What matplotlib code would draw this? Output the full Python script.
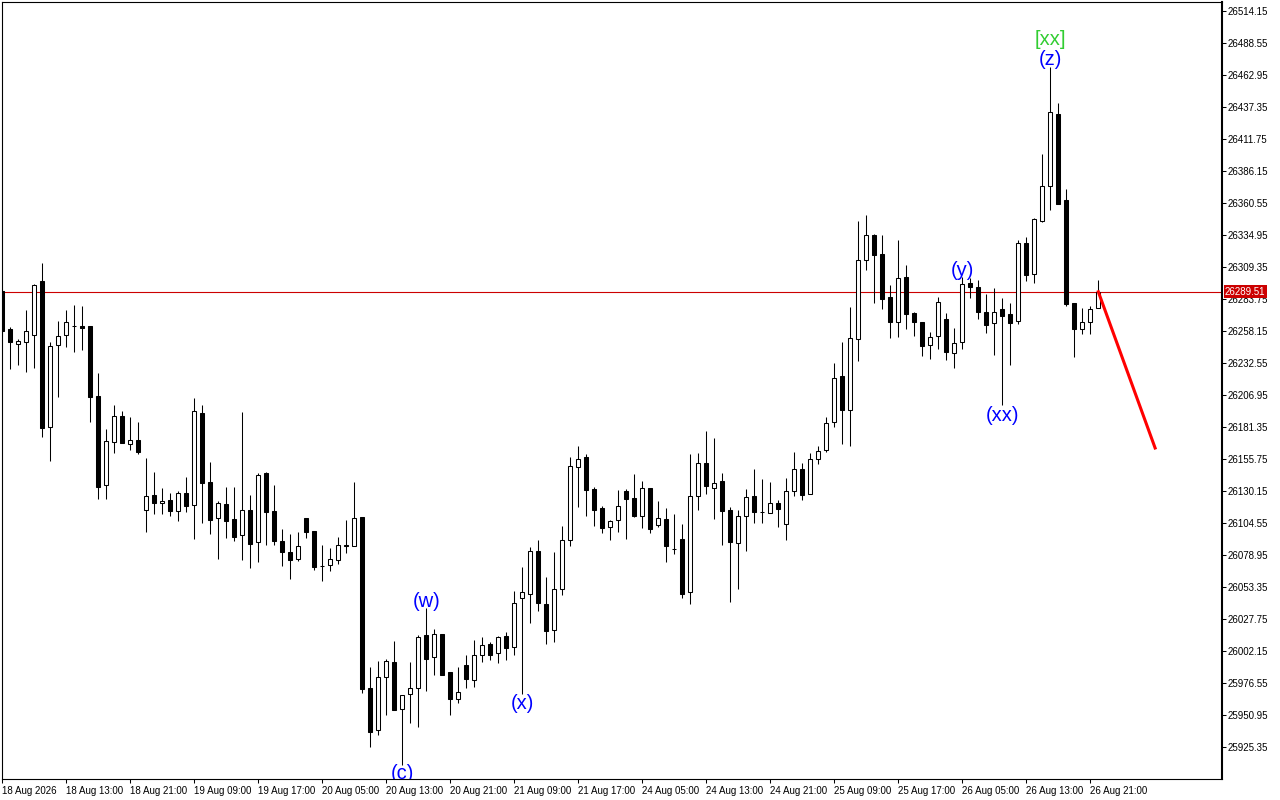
import numpy as np
import matplotlib
matplotlib.use("Agg")
import matplotlib.pyplot as plt

plt.rcParams['font.family'] = ['Liberation Sans', 'DejaVu Sans']

# hourly candles
opens = [
    26290.2, 26259.8, 26248.0, 26249.6, 26255.2, 26298.2, 26181.6, 26246.7, 26254.7, 26261.9,
    26262.2, 26262.2, 26206.2, 26134.7, 26169.6, 26190.2, 26168.0, 26171.0, 26114.7, 26126.7,
    26120.3, 26122.7, 26113.9, 26128.3, 26118.7, 26192.3, 26137.1, 26108.3, 26119.5, 26107.5,
    26094.7, 26114.7, 26089.1, 26144.3, 26113.9, 26090.2, 26081.1, 26075.5, 26108.3, 26097.9,
    26069.9, 26070.7, 26074.7, 26086.7, 26086.4, 26109.1, 25972.3, 25938.7, 25981.1, 25993.1,
    25955.5, 25967.5, 25972.3, 26014.7, 25997.1, 26015.8, 25985.1, 25963.5, 25990.7, 25978.7,
    25998.7, 26007.5, 26000.3, 26013.9, 26005.4, 26044.3, 26048.0, 26082.2, 26039.8, 26018.7,
    26052.0, 26090.7, 26149.6, 26157.1, 26131.8, 26116.6, 26101.1, 26106.7, 26129.9, 26124.6,
    26109.9, 26132.6, 26102.7, 26107.8, 26083.5, 26091.5, 26049.1, 26125.9, 26152.3, 26132.3,
    26137.9, 26114.7, 26088.3, 26109.9, 26126.2, 26113.1, 26112.3, 26120.3, 26103.5, 26129.9,
    26147.5, 26127.5, 26155.5, 26162.7, 26185.1, 26221.9, 26194.7, 26251.5, 26314.7, 26335.0,
    26319.8, 26285.1, 26265.1, 26301.4, 26272.6, 26265.4, 26246.7, 26253.9, 26267.5, 26240.3,
    26249.1, 26296.6, 26293.1, 26273.4, 26264.3, 26275.5, 26271.5, 26265.9, 26328.6, 26303.5,
    26346.2, 26373.9, 26431.8, 26362.7, 26280.6, 26259.5, 26265.1, 26276.3,
]
highs = [
    26292.0, 26261.4, 26251.5, 26275.0, 26296.0, 26312.6, 26249.1, 26266.2, 26275.0, 26279.0,
    26278.2, 26262.2, 26224.6, 26179.8, 26199.0, 26194.2, 26189.4, 26185.4, 26156.6, 26145.4,
    26132.6, 26128.6, 26130.2, 26141.4, 26204.6, 26199.0, 26153.4, 26121.9, 26133.4, 26133.4,
    26193.4, 26126.7, 26144.3, 26145.6, 26135.0, 26099.8, 26095.8, 26097.4, 26108.3, 26097.9,
    26086.7, 26084.3, 26093.1, 26107.0, 26137.4, 26109.1, 25989.1, 25993.9, 25995.5, 26009.9,
    25966.7, 25993.1, 26014.7, 26036.6, 26019.5, 26015.8, 25985.1, 25989.1, 25999.0, 26011.0,
    26013.4, 26009.4, 26013.9, 26017.1, 26050.2, 26069.4, 26085.1, 26091.0, 26061.4, 26081.1,
    26102.2, 26157.1, 26166.2, 26159.8, 26133.4, 26118.2, 26107.0, 26131.0, 26131.5, 26143.8,
    26138.2, 26132.6, 26122.2, 26116.6, 26111.8, 26103.8, 26159.5, 26160.6, 26178.2, 26172.6,
    26144.3, 26117.4, 26115.0, 26131.8, 26147.8, 26139.8, 26137.4, 26123.0, 26140.6, 26161.4,
    26152.6, 26160.3, 26165.9, 26189.1, 26232.6, 26249.6, 26277.4, 26346.2, 26351.0, 26335.8,
    26335.0, 26295.0, 26331.2, 26311.0, 26273.4, 26265.4, 26257.6, 26285.4, 26272.8, 26260.6,
    26301.1, 26300.8, 26299.2, 26287.8, 26292.6, 26284.6, 26280.3, 26331.0, 26333.4, 26348.6,
    26399.8, 26469.4, 26440.6, 26371.8, 26280.6, 26276.4, 26278.3, 26299.0,
]
lows = [
    26254.0, 26227.8, 26231.0, 26225.6, 26228.6, 26173.4, 26154.4, 26205.6, 26245.6, 26241.6,
    26243.0, 26185.6, 26123.9, 26123.9, 26160.8, 26168.6, 26163.0, 26159.5, 26097.6, 26111.9,
    26111.9, 26110.4, 26106.4, 26113.6, 26092.0, 26104.8, 26095.9, 26076.0, 26092.8, 26090.4,
    26075.2, 26068.8, 26073.6, 26087.2, 26087.2, 26070.4, 26059.5, 26073.9, 26092.3, 26066.7,
    26057.9, 26065.9, 26071.5, 26080.3, 26085.9, 25968.8, 25925.1, 25934.7, 25950.7, 25954.7,
    25910.7, 25944.3, 25941.1, 25970.4, 25983.2, 25983.2, 25951.2, 25960.8, 25972.8, 25973.6,
    25993.6, 25994.7, 25992.8, 25994.7, 25998.7, 25967.8, 26024.8, 26034.4, 26008.0, 26009.1,
    26047.2, 26086.4, 26117.6, 26110.4, 26102.4, 26096.8, 26091.2, 26097.6, 26092.0, 26109.6,
    26100.8, 26096.8, 26101.6, 26073.6, 26079.5, 26044.8, 26040.0, 26115.2, 26128.0, 26108.0,
    26087.2, 26041.6, 26051.5, 26082.4, 26104.8, 26104.8, 26112.3, 26101.6, 26091.0, 26126.4,
    26123.2, 26127.5, 26152.0, 26161.6, 26181.6, 26167.5, 26166.4, 26234.4, 26307.2, 26280.8,
    26275.5, 26252.8, 26253.6, 26260.0, 26254.4, 26238.4, 26236.0, 26243.5, 26235.2, 26228.8,
    26244.0, 26284.8, 26267.5, 26256.8, 26239.0, 26199.0, 26231.0, 26263.5, 26298.4, 26296.8,
    26345.6, 26355.2, 26359.8, 26278.2, 26237.6, 26256.0, 26256.0, 26276.3,
]
closes = [
    26258.2, 26249.1, 26250.2, 26257.9, 26295.0, 26180.8, 26245.9, 26253.9, 26265.1, 26261.9,
    26260.8, 26205.6, 26133.6, 26169.9, 26189.9, 26168.8, 26170.7, 26161.6, 26125.9, 26120.3,
    26121.9, 26114.4, 26128.3, 26118.4, 26193.9, 26136.8, 26107.2, 26120.3, 26106.4, 26093.6,
    26114.7, 26088.0, 26142.7, 26113.6, 26090.4, 26081.6, 26074.7, 26085.9, 26097.1, 26069.6,
    26069.9, 26075.5, 26086.7, 26085.9, 26108.3, 25971.9, 25937.6, 25981.1, 25993.9, 25954.7,
    25966.7, 25972.3, 26013.1, 25996.0, 26015.5, 25983.2, 25964.0, 25969.1, 25980.0, 25998.7,
    26006.7, 25999.2, 26013.1, 26004.8, 26040.3, 26049.1, 26081.9, 26040.8, 26018.4, 26051.5,
    26090.7, 26149.9, 26155.5, 26131.2, 26115.2, 26100.8, 26105.9, 26117.9, 26124.0, 26110.4,
    26132.3, 26100.0, 26108.3, 26086.4, 26083.5, 26048.0, 26125.9, 26152.3, 26133.9, 26136.3,
    26114.4, 26089.6, 26109.9, 26125.1, 26113.6, 26113.1, 26120.3, 26115.5, 26129.9, 26147.5,
    26127.2, 26155.5, 26162.4, 26184.3, 26220.3, 26194.7, 26252.3, 26314.7, 26334.7, 26319.2,
    26284.0, 26265.6, 26300.3, 26272.0, 26265.1, 26246.4, 26253.1, 26281.1, 26241.1, 26248.3,
    26295.5, 26293.6, 26273.1, 26262.7, 26273.1, 26269.9, 26264.8, 26328.6, 26303.2, 26347.5,
    26374.2, 26433.4, 26359.8, 26279.9, 26260.0, 26265.1, 26275.5, 26289.51,
]

time_labels = [
    '18 Aug 2026', '18 Aug 13:00', '18 Aug 21:00', '19 Aug 09:00', '19 Aug 17:00',
    '20 Aug 05:00', '20 Aug 13:00', '20 Aug 21:00', '21 Aug 09:00', '21 Aug 17:00',
    '24 Aug 05:00', '24 Aug 13:00', '24 Aug 21:00', '25 Aug 09:00', '25 Aug 17:00',
    '26 Aug 05:00', '26 Aug 13:00', '26 Aug 21:00',
]
label_step = 8

price_ticks = [
    25925.35, 25950.95, 25976.55, 26002.15, 26027.75, 26053.35, 26078.95, 26104.55,
    26130.15, 26155.75, 26181.35, 26206.95, 26232.55, 26258.15, 26283.75, 26309.35,
    26334.95, 26360.55, 26386.15, 26411.75, 26437.35, 26462.95, 26488.55, 26514.15,
]
current_price = 26289.51

# wave marks: (text, bar index, price, colour)
wave_marks = [
    ('(c)', 50, 25904.0, 'blue'),
    ('(w)', 53, 26041.5, 'blue'),
    ('(x)', 65, 25960.0, 'blue'),
    ('(y)', 120, 26306.5, 'blue'),
    ('(xx)', 125, 26190.5, 'blue'),
    ('(z)', 131, 26475.5, 'blue'),
    ('[xx]', 131, 26491.5, '#32cd32'),
]

# projected move after the last bar
forecast_bars = [137, 144.1]
forecast_prices = [26289.51, 26164.55]

o = np.array(opens)
h = np.array(highs)
l = np.array(lows)
c = np.array(closes)
x = np.arange(len(o))
up = c >= o

fig = plt.figure(figsize=(12.8, 8), dpi=100)
ax = fig.add_axes([2 / 1280, 21 / 800, 1220 / 1280, 777 / 800])

ax.vlines(x, l, h, color='black', lw=0.75, zorder=2)
ax.bar(x[up], (c - o)[up], bottom=o[up], width=0.5, facecolor='white',
       edgecolor='black', linewidth=0.75, zorder=3)
ax.bar(x[~up], (o - c)[~up], bottom=c[~up], width=0.5, facecolor='black',
       edgecolor='black', linewidth=0.75, zorder=3)

ax.axhline(current_price, color='#cc0000', lw=0.8, zorder=1)
ax.plot(forecast_bars, forecast_prices, color='#ff0000', lw=2.2, zorder=4)

for txt, bi, pr, col in wave_marks:
    ax.text(bi, pr, txt, color=col, fontsize=14.5, ha='center', va='center',
            zorder=5, clip_on=True)

ax.set_xlim(-0.04, 152.46)
ax.set_ylim(25899.75, 26521.35)

ax.set_xticks(x[::label_step][:len(time_labels)])
ax.set_xticklabels(time_labels)
plt.setp(ax.get_xticklabels(), ha='left')
ax.tick_params(axis='x', direction='out', length=3, width=0.75, pad=2,
               labelsize=7, colors='black')

ax.yaxis.tick_right()
ax.set_yticks(price_ticks)
ax.set_yticklabels(['%.2f' % p for p in price_ticks])
ax.tick_params(axis='y', direction='out', length=3, width=0.75, pad=1,
               labelsize=7, colors='black')

for s in ax.spines.values():
    s.set_linewidth(0.8)
    s.set_color('black')
ax.spines['right'].set_linewidth(1.5)

ax.text(1.0025, current_price, '%.2f' % current_price, transform=ax.get_yaxis_transform(),
        color='white', fontsize=7, ha='left', va='center', zorder=10,
        bbox=dict(boxstyle='square,pad=0.15', facecolor='#cc0000', edgecolor='none'))

fig.savefig('out.png', dpi=100, facecolor='white')
